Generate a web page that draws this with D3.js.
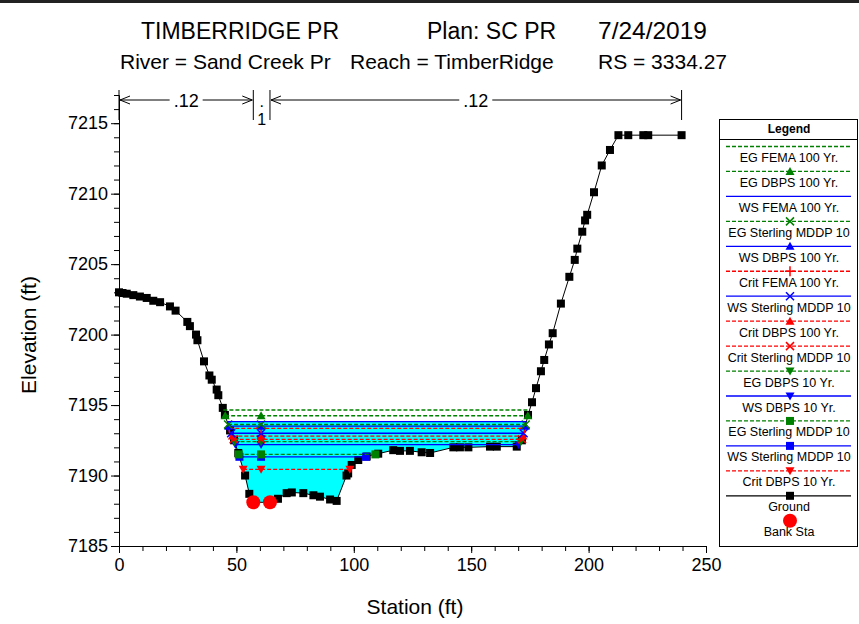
<!DOCTYPE html>
<html>
<head>
<meta charset="utf-8">
<script src="https://cdn.jsdelivr.net/npm/d3@7"></script>
<style>
  body { margin: 0; background: #fff; }
  svg { display: block; font-family: Arial, "Liberation Sans", sans-serif; }
</style>
</head>
<body>
<div id="chart"></div>
<script>
// ground profile (station ft, elevation ft)
const groundSta = [0, 1.5, 3.3, 6.1, 8.9, 11.8, 14.6, 17.5, 21.7, 24.1, 29.1, 30.2, 32.8, 33.4, 36.2, 38.5, 39.5, 41.6, 42.3, 44.2, 45.1, 47.3, 49.0, 50.8, 53.7, 55.5, 57.2, 64.3, 67.7, 71.4, 73.6, 78.5, 82.8, 85.6, 89.9, 92.7, 96.9, 97.6, 99.1, 101.9, 105.5, 110.4, 116.8, 119.7, 123.9, 128.9, 132.5, 142.4, 145.2, 148.8, 158.0, 160.9, 169.4, 171.6, 174.2, 175.9, 177.6, 179.7, 181.1, 183.1, 184.7, 188.2, 191.8, 194.1, 195.2, 197.3, 198.5, 199.4, 202.3, 205.6, 209.1, 212.7, 216.9, 223.3, 225.4, 239.6]
const groundElev = [7203.0, 7202.95, 7202.9, 7202.8, 7202.7, 7202.6, 7202.4, 7202.3, 7202.0, 7201.7, 7200.9, 7200.6, 7200.0, 7199.6, 7198.1, 7197.1, 7196.8, 7196.1, 7195.7, 7194.8, 7194.3, 7193.2, 7192.5, 7191.6, 7190.0, 7188.7, 7188.1, 7188.1, 7188.35, 7188.75, 7188.8, 7188.75, 7188.6, 7188.5, 7188.3, 7188.2, 7190.0, 7190.15, 7190.75, 7191.1, 7191.35, 7191.55, 7191.8, 7191.75, 7191.75, 7191.65, 7191.6, 7192.0, 7192.0, 7192.0, 7192.05, 7192.05, 7192.05, 7192.5, 7194.3, 7195.2, 7196.2, 7197.4, 7198.2, 7199.3, 7200.1, 7202.2, 7204.1, 7205.3, 7206.1, 7207.3, 7208.1, 7208.5, 7210.1, 7212.0, 7213.1, 7214.15, 7214.15, 7214.15, 7214.15, 7214.15]

// bank stations
const bankSta = [57.2, 64.3]
const bankElev = [7188.1, 7188.1]

// Manning's n regions
const nBreaks = [0, 57.2, 64.3, 239.6]
const nValues = ['.12', '.1', '.12']

// water surface profiles, highest first (legend order)
const profileNames = ['EG FEMA 100 Yr.', 'EG DBPS 100 Yr.', 'WS FEMA 100 Yr.', 'EG Sterling MDDP 10',
  'WS DBPS 100 Yr.', 'Crit FEMA 100 Yr.', 'WS Sterling MDDP 10', 'Crit DBPS 100 Yr.',
  'Crit Sterling MDDP 10', 'EG DBPS 10 Yr.', 'WS DBPS 10 Yr.', 'EG Sterling MDDP 10',
  'WS Sterling MDDP 10', 'Crit DBPS 10 Yr.']
const profileType = ['EG', 'EG', 'WS', 'EG', 'WS', 'Crit', 'WS', 'Crit', 'Crit', 'EG', 'WS', 'EG', 'WS', 'Crit']
const profileMarker = ['none', 'up', 'none', 'x', 'up', 'plus', 'x', 'up', 'x', 'down', 'down', 'square', 'square', 'down']
const profileElev = [7194.65, 7194.24, 7193.82, 7193.62, 7193.5, 7193.35, 7193.0, 7192.8, 7192.57, 7192.4, 7192.2, 7191.5, 7191.33, 7190.44]

const xTicks = [0, 50, 100, 150, 200, 250]
const yTicks = [7185, 7190, 7195, 7200, 7205, 7210, 7215]

const typeStyle = {
  EG: { color: '#008000', dash: '4,2' },
  WS: { color: '#0000ff', dash: null },
  Crit: { color: '#ff0000', dash: '4,2' },
  Ground: { color: '#000000', dash: null }
}

const W = 859, H = 624
const markerSta = 60.5

const svg = d3.select('#chart').append('svg')
  .attr('width', W).attr('height', H)

const x = d3.scaleLinear().domain([0, 250]).range([119, 706])
const y = d3.scaleLinear().domain([7185, 7217]).range([546, 95])

// top border
svg.append('rect').attr('x', 0).attr('y', 0).attr('width', W).attr('height', 3).attr('fill', '#222')

// titles
const font = 'Arial, "Liberation Sans", sans-serif'
const t1 = [['TIMBERRIDGE PR', 141, 23], ['Plan: SC PR', 427, 23], ['7/24/2019', 598, 24.5]]
t1.forEach(d => svg.append('text').attr('x', d[1]).attr('y', 39).attr('font-size', d[2]).text(d[0]))
const t2 = [['River = Sand Creek Pr', 120], ['Reach = TimberRidge', 350], ['RS = 3334.27', 598]]
t2.forEach(d => svg.append('text').attr('x', d[1]).attr('y', 69).attr('font-size', 21).text(d[0]))

// axes
const yAxis = d3.axisLeft(y).tickValues(yTicks).tickSize(8).tickSizeOuter(0).tickPadding(3).tickFormat(d3.format('d'))
const yMinor = d3.axisLeft(y).tickValues(d3.range(7185, 7218, 1)).tickSize(5).tickSizeOuter(0).tickFormat('')
const xAxis = d3.axisBottom(x).tickValues(xTicks).tickSize(7).tickSizeOuter(0).tickPadding(5)
const xMinor = d3.axisBottom(x).tickValues(d3.range(0, 251, 10)).tickSize(5).tickSizeOuter(0).tickFormat('')

svg.append('g').attr('transform', 'translate(119,0)').call(yMinor)
svg.append('g').attr('class', 'axis y-axis').attr('transform', 'translate(119,0)').call(yAxis)
svg.append('g').attr('transform', 'translate(0,546)').call(xMinor)
svg.append('g').attr('class', 'axis x-axis').attr('transform', 'translate(0,546)').call(xAxis)
svg.selectAll('.axis text').attr('font-size', 18).attr('font-family', font).attr('fill', '#000')
svg.selectAll('.domain, .tick line').attr('stroke', '#000')

svg.append('text').attr('x', 415).attr('y', 614).attr('text-anchor', 'middle')
  .attr('font-size', 21).text('Station (ft)')
svg.append('text').attr('transform', 'translate(36,335) rotate(-90)').attr('text-anchor', 'middle')
  .attr('font-size', 21).text('Elevation (ft)')

// ground helpers
const ground = groundSta.map((s, i) => ({ s, e: groundElev[i] }))
const minIdx = d3.minIndex(ground, d => d.e)

function crossing(elev, dir) {
  let i = minIdx
  while (i + dir >= 0 && i + dir < ground.length) {
    const a = ground[i], b = ground[i + dir]
    if (b.e >= elev) return a.s + (b.s - a.s) * (elev - a.e) / (b.e - a.e)
    i += dir
  }
  return ground[i].s
}

// water fill up to the highest water surface
const wsTop = d3.max(profileElev.filter((e, i) => profileType[i] === 'WS'))
const fl = crossing(wsTop, -1), fr = crossing(wsTop, 1)
const fillPts = [{ s: fl, e: wsTop }].concat(ground.filter(d => d.s > fl && d.s < fr)).concat([{ s: fr, e: wsTop }])
svg.append('path').datum(fillPts)
  .attr('d', d3.area().x(d => x(d.s)).y0(d => y(d.e)).y1(y(wsTop)))
  .attr('fill', '#00ffff')

// ground
svg.append('path').datum(ground)
  .attr('d', d3.line().x(d => x(d.s)).y(d => y(d.e)))
  .attr('fill', 'none').attr('stroke', '#000').attr('stroke-width', 1)
svg.append('g').selectAll('rect').data(ground).join('rect')
  .attr('x', d => x(d.s) - 4).attr('y', d => y(d.e) - 4)
  .attr('width', 8).attr('height', 8).attr('fill', '#000')

// markers
function drawMarker(g, type, cx, cy, color) {
  const r = 4.5
  if (type === 'up') {
    g.append('path').attr('d', `M${cx},${cy - r}L${cx + r},${cy + r - 1}L${cx - r},${cy + r - 1}Z`).attr('fill', color)
  } else if (type === 'down') {
    g.append('path').attr('d', `M${cx},${cy + r}L${cx + r},${cy - r + 1}L${cx - r},${cy - r + 1}Z`).attr('fill', color)
  } else if (type === 'square') {
    g.append('rect').attr('x', cx - 4).attr('y', cy - 4).attr('width', 8).attr('height', 8).attr('fill', color)
  } else if (type === 'x') {
    g.append('path').attr('d', `M${cx - 4},${cy - 4}L${cx + 4},${cy + 4}M${cx - 4},${cy + 4}L${cx + 4},${cy - 4}`)
      .attr('stroke', color).attr('stroke-width', 1.5)
  } else if (type === 'plus') {
    g.append('path').attr('d', `M${cx - 5},${cy}L${cx + 5},${cy}M${cx},${cy - 5}L${cx},${cy + 5}`)
      .attr('stroke', color).attr('stroke-width', 1.5)
  }
}

// water surface lines, lowest first so the highest sit on top
const profG = svg.append('g')
d3.range(profileElev.length).reverse().forEach(i => {
  const e = profileElev[i]
  const st = typeStyle[profileType[i]]
  const l = crossing(e, -1), r = crossing(e, 1)
  profG.append('line')
    .attr('x1', x(l)).attr('x2', x(r)).attr('y1', y(e)).attr('y2', y(e))
    .attr('stroke', st.color).attr('stroke-width', 1.3)
    .attr('stroke-dasharray', st.dash)
  ;[l, markerSta, r].forEach(s => drawMarker(profG, profileMarker[i], x(s), y(e), st.color))
})

// bank stations
svg.append('g').selectAll('circle').data(bankSta).join('circle')
  .attr('cx', d => x(d)).attr('cy', (d, i) => y(bankElev[i])).attr('r', 7).attr('fill', '#ff0000')

// Manning's n annotation
const nG = svg.append('g').attr('stroke', '#000').attr('fill', 'none')
nBreaks.forEach(s => nG.append('line').attr('x1', x(s)).attr('x2', x(s)).attr('y1', 90).attr('y2', 120))
const arrowY = 100
nValues.forEach((v, i) => {
  const a = x(nBreaks[i]), b = x(nBreaks[i + 1]), c = (a + b) / 2
  if (b - a > 50) {
    const t = svg.append('text').attr('x', c).attr('y', arrowY + 7).attr('text-anchor', 'middle')
      .attr('font-size', 18).text(v)
    const hw = t.node().getComputedTextLength() / 2 + 4
    nG.append('path').attr('d', `M${a + 1},${arrowY}L${c - hw},${arrowY}M${c + hw},${arrowY}L${b - 1},${arrowY}`)
    nG.append('path').attr('d', `M${a + 11},${arrowY - 4}L${a + 1},${arrowY}L${a + 11},${arrowY + 4}`)
    nG.append('path').attr('d', `M${b - 11},${arrowY - 4}L${b - 1},${arrowY}L${b - 11},${arrowY + 4}`)
  } else {
    svg.append('text').attr('x', c).attr('y', arrowY + 7).attr('text-anchor', 'middle').attr('font-size', 16).text(v.slice(0, 1))
    svg.append('text').attr('x', c).attr('y', arrowY + 25).attr('text-anchor', 'middle').attr('font-size', 16).text(v.slice(1))
  }
})

// legend
const lg = svg.append('g')
const lx0 = 719, lx1 = 857, ly0 = 119, ly1 = 546, lc = 789
lg.append('rect').attr('x', lx0 + 0.5).attr('y', ly0 + 0.5).attr('width', lx1 - lx0).attr('height', ly1 - ly0)
  .attr('fill', '#fff').attr('stroke', '#000')
lg.append('text').attr('x', lc).attr('y', 133).attr('text-anchor', 'middle').attr('font-size', 12)
  .attr('font-weight', 'bold').text('Legend')
lg.append('line').attr('x1', lx0).attr('x2', lx1).attr('y1', 139.5).attr('y2', 139.5).attr('stroke', '#000')

const legendItems = profileNames.map((n, i) => ({ name: n, type: profileType[i], marker: profileMarker[i] }))
  .concat([{ name: 'Ground', type: 'Ground', marker: 'square' }, { name: 'Bank Sta', type: 'Bank', marker: 'circle' }])
legendItems.forEach((d, i) => {
  const ly = 146.5 + i * 24.95
  if (d.type === 'Bank') {
    lg.append('circle').attr('cx', lc + 1).attr('cy', ly).attr('r', 7).attr('fill', '#ff0000')
  } else {
    const st = typeStyle[d.type]
    lg.append('line').attr('x1', 726).attr('x2', 851).attr('y1', ly).attr('y2', ly)
      .attr('stroke', st.color).attr('stroke-width', 1.3).attr('stroke-dasharray', st.dash)
    drawMarker(lg, d.marker, lc + 1, ly, st.color)
  }
  lg.append('text').attr('x', lc).attr('y', ly + 15.5).attr('text-anchor', 'middle').attr('font-size', 12.5).text(d.name)
})
</script>
</body>
</html>
